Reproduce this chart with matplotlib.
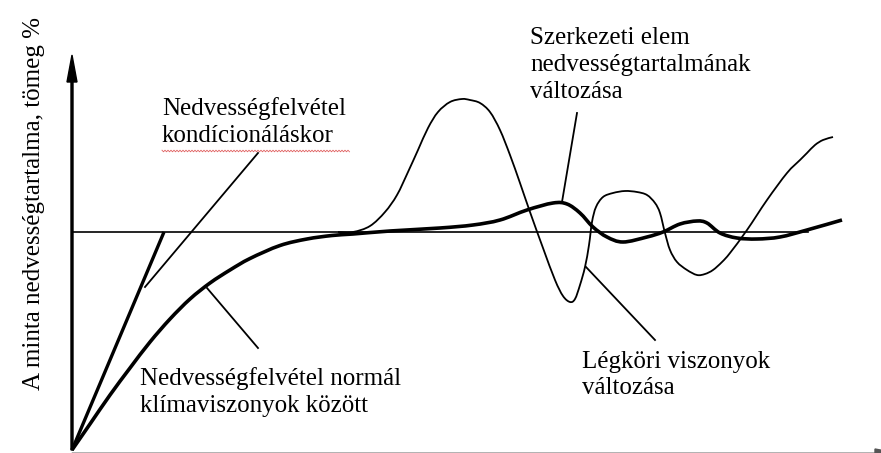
import numpy as np
import matplotlib.pyplot as plt
from matplotlib.path import Path
from matplotlib.patches import PathPatch

plt.rcParams['font.family'] = ['Liberation Serif', 'DejaVu Serif']

# time (arbitrary units) and moisture content (arbitrary %) readings
equilibrium = 21.8
line_end = 73.6

# fast uptake during conditioning (straight line)
cond_t = [0.0, 9.2]
cond_m = [0.0, 21.8]

# uptake under normal climate, then the element's moisture fluctuation
normal_t = [0.0, 1.8, 3.8, 5.8, 7.8, 9.8, 11.8, 13.8, 15.8, 17.8, 20.8, 23.5,
            26.0, 28.1, 31.8, 36.8, 40.1, 42.8, 45.5, 48.1, 49.5, 50.8, 52.1,
            53.5, 55.1, 57.5, 59.1, 60.8, 62.5, 63.5, 64.8, 66.5, 68.5, 70.8,
            73.5, 77.0]
normal_m = [0.0, 2.6, 5.5, 8.2, 10.8, 13.1, 15.1, 16.7, 18.0, 19.15, 20.45, 21.1,
            21.45, 21.6, 21.9, 22.2, 22.5, 23.0, 24.0, 24.7, 24.6, 23.7, 22.3,
            21.3, 20.8, 21.3, 21.8, 22.6, 22.9, 22.7, 21.7, 21.2, 21.1, 21.3,
            22.0, 23.0]

# atmospheric conditions
atm_t = [26.6, 28.1, 29.8, 31.3, 32.5, 33.6, 34.6, 35.6, 36.6, 37.8, 39.0,
         39.8, 40.8, 41.8, 42.8, 43.8, 44.8, 45.8, 47.1, 48.3, 49.1,
         49.8, 50.3, 50.8, 51.3, 51.7, 52.0, 52.4, 53.1, 54.1, 55.3, 56.5,
         57.5, 58.3, 58.8, 59.3, 59.8, 60.5, 61.5, 62.5, 63.3, 64.1, 65.0,
         65.8, 67.5, 69.5, 71.5, 72.8, 73.5, 74.3, 75.1, 76.1]
atm_m = [21.8, 21.8, 22.4, 23.8, 25.5, 27.8, 30.0, 32.2, 33.8, 34.8, 35.1,
         35.0, 34.7, 33.8, 32.0, 29.5, 26.7, 23.8, 20.2, 17.0, 15.4,
         14.8, 15.1, 16.5, 18.3, 20.5, 22.8, 24.3, 25.3, 25.7, 25.9, 25.8,
         25.5, 24.7, 23.7, 21.7, 20.0, 18.8, 18.0, 17.5, 17.6, 18.0, 18.8,
         19.7, 22.0, 25.0, 27.7, 29.0, 29.7, 30.5, 31.0, 31.3]

# labels: (text, left x, centre y, leader start, leader end)
labels = [
    ("Nedvességfelvétel\nkondícionáláskor", 9.0, 32.8, (18.6, 29.7), (7.3, 16.3)),
    ("Szerkezeti elem\nnedvességtartalmának\nváltozása", 45.8, 38.5, (50.5, 33.7), (49.0, 24.8)),
    ("Nedvességfelvétel normál\nklímaviszonyok között", 6.8, 5.8, (18.6, 10.2), (13.5, 16.2)),
    ("Légköri viszonyok\nváltozása", 51.0, 7.5, (58.3, 11.0), (51.4, 18.3)),
]
ylabel = "A minta nedvességtartalma, tömeg %"


def smooth_path(xs, ys):
    # Catmull-Rom through the points, drawn as cubic Bezier segments
    pts = np.column_stack([xs, ys])
    verts = [pts[0]]
    codes = [Path.MOVETO]
    n = len(pts)
    for i in range(n - 1):
        p0 = pts[max(i - 1, 0)]
        p1 = pts[i]
        p2 = pts[i + 1]
        p3 = pts[min(i + 2, n - 1)]
        verts += [p1 + (p2 - p0) / 6, p2 - (p3 - p1) / 6, p2]
        codes += [Path.CURVE4] * 3
    return Path(verts, codes)


fig = plt.figure(figsize=(8.81, 4.53), dpi=100)
ax = fig.add_axes([0, 0, 1, 1])
ax.set_xlim(-7.2, 80.9)
ax.set_ylim(-0.3, 45.0)
ax.axis('off')

# axes with arrow heads (the time axis sits right on the bottom edge)
ax.arrow(0, 0, 0, 39.5, width=0.2, head_width=1.0, head_length=2.7,
         length_includes_head=True, color='black', clip_on=False)
ax.arrow(0, -0.4, 83.0, 0, width=0.15, head_width=1.0, head_length=2.7,
         length_includes_head=True, color='#555555', clip_on=False)

ax.plot([0, line_end], [equilibrium, equilibrium], color='black', lw=1.2)
ax.plot(cond_t, cond_m, color='black', lw=2.4, solid_capstyle='butt')
ax.add_patch(PathPatch(smooth_path(normal_t, normal_m), fill=False,
                       edgecolor='black', lw=2.6, capstyle='butt'))
ax.add_patch(PathPatch(smooth_path(atm_t, atm_m), fill=False,
                       edgecolor='black', lw=1.3, capstyle='butt'))

for text, x, y, p0, p1 in labels:
    ax.text(x, y, text, fontsize=18, ha='left', va='center', linespacing=1.28)
    ax.plot([p0[0], p1[0]], [p0[1], p1[1]], color='black', lw=1.3)

# spell-check squiggle under the second line of the first label
wx = np.arange(9.0, 27.9, 0.15)
wy = 29.9 + 0.08 * np.where(np.arange(len(wx)) % 2 == 0, 1, -1)
ax.plot(wx, wy, color='#e06060', lw=0.6)

ax.text(-3.8, 24.6, ylabel, fontsize=18, rotation=90, ha='center', va='center')

fig.savefig('out.png', dpi=100)
